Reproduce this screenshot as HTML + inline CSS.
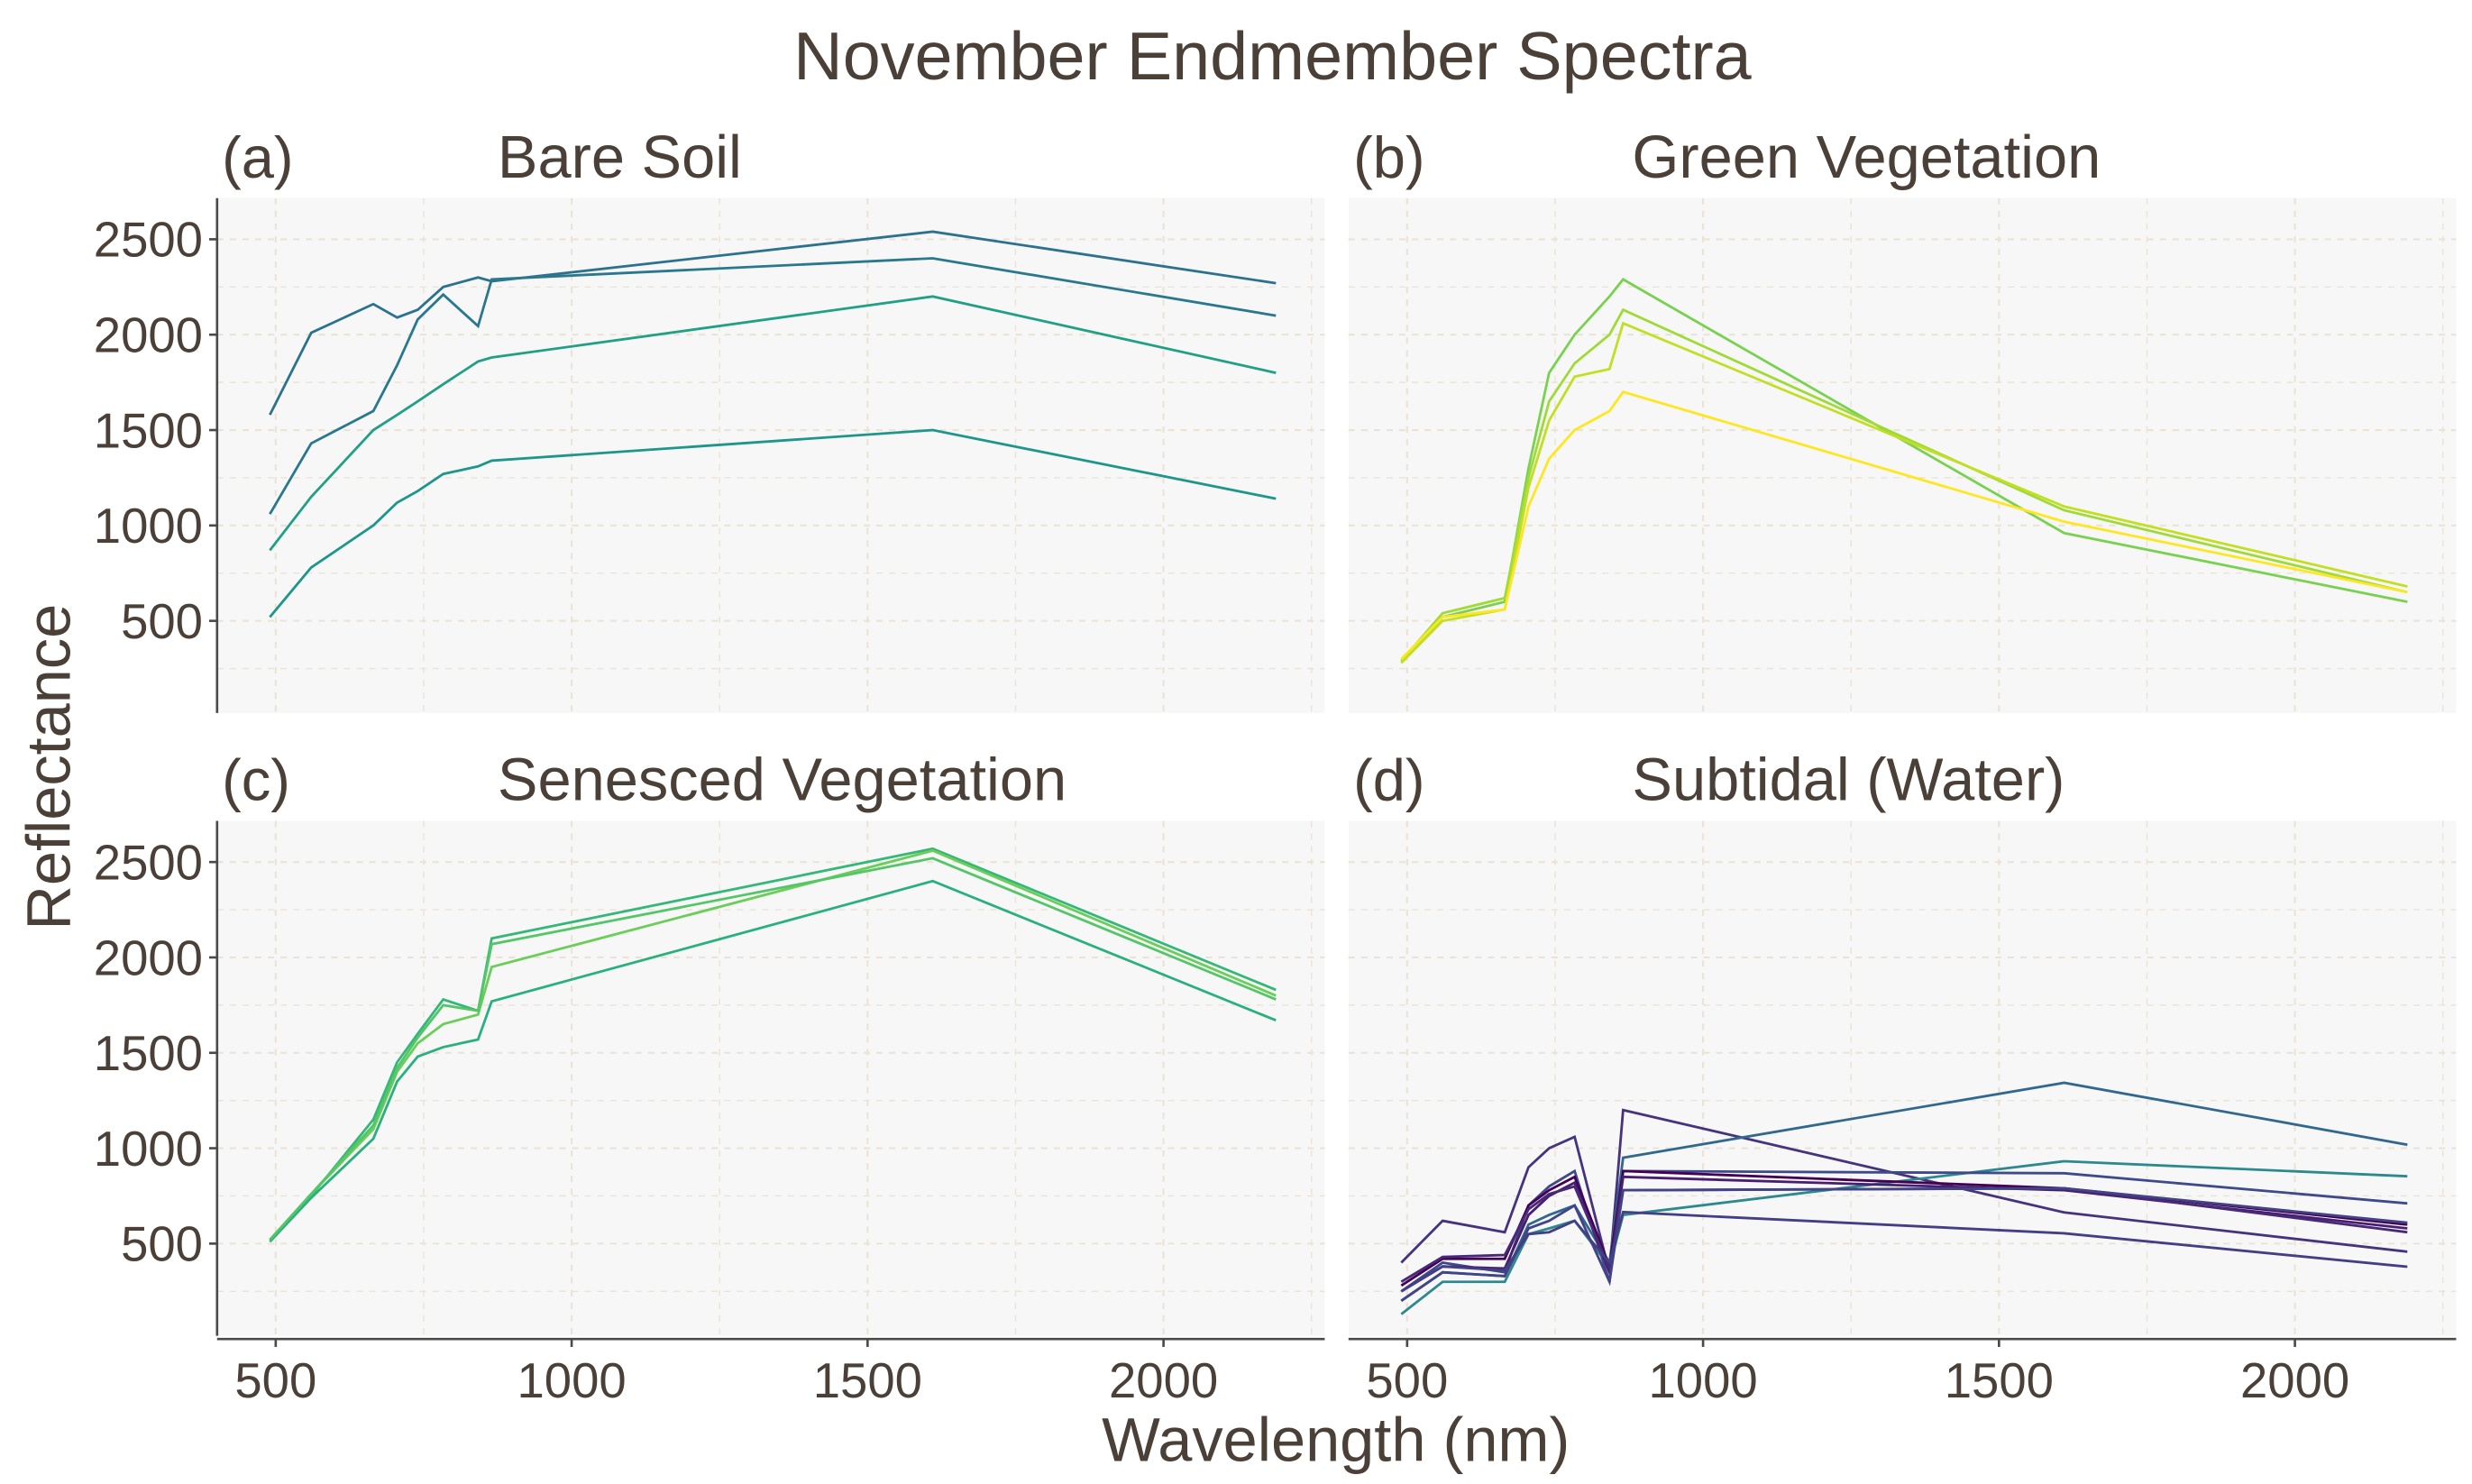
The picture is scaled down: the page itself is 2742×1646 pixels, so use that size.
<!DOCTYPE html>
<html><head><meta charset="utf-8"><style>
html,body{margin:0;padding:0;background:#fff;}
svg{display:block;}
text{font-family:"Liberation Sans",sans-serif;fill:#4a4038;}
</style></head><body>
<svg id="chart" width="2742" height="1646" viewBox="0 0 1560 936.5" preserveAspectRatio="none" xmlns="http://www.w3.org/2000/svg">
<text x="803" y="50" font-size="43" text-anchor="middle">November Endmember Spectra</text>
<text transform="translate(44,484) rotate(-90)" font-size="39" text-anchor="middle">Reflectance</text>
<text x="843" y="922" font-size="39" text-anchor="middle">Wavelength (nm)</text>
<g id="panels"></g>
</svg>
<script>
const wavelengths=[490,560,665,705,740,783,842,865,1610,2190];
const xTicks=[500,1000,1500,2000];
const yTicks=[500,1000,1500,2000,2500];
const panelLabels=["(a)","(b)","(c)","(d)"];
const panelTitles=["Bare Soil","Green Vegetation","Senesced Vegetation","Subtidal (Water)"];
const soil=[[1580,2010,2160,2090,2130,2250,2300,2280,2540,2270],[1060,1430,1600,1840,2080,2210,2045,2290,2400,2100],[870,1150,1500,1580,1650,1740,1860,1880,2200,1800],[520,780,1000,1120,1180,1270,1310,1340,1500,1140]];
const soilColors=["#2c728e","#2a788e","#22a085","#1f968b"];
const green=[[280,520,600,1300,1800,2000,2200,2290,960,600],[290,540,620,1250,1650,1850,2000,2130,1080,650],[280,500,560,1200,1550,1780,1820,2060,1100,680],[300,520,560,1100,1350,1500,1600,1700,1020,650]];
const greenColors=["#7ad151","#a0da39","#c2df23","#fde725"];
const senesced=[[520,750,1150,1450,1600,1780,1720,2100,2570,1830],[520,760,1100,1400,1550,1650,1700,1950,2560,1800],[510,740,1050,1350,1480,1530,1570,1770,2400,1670],[520,760,1120,1420,1580,1750,1720,2070,2520,1780]];
const senescedColors=["#35b779","#6ccd5a","#2ab07f","#54c568"];
const water=[[400,620,560,900,1000,1060,350,1200,664,458],[200,350,330,600,650,700,400,950,1343,1018],[130,300,300,550,580,620,380,650,932,853],[250,400,350,700,800,880,300,880,869,711],[280,420,420,700,780,850,380,880,790,600],[250,380,370,650,750,820,350,850,780,580],[300,430,440,680,760,800,370,780,790,560],[200,350,330,580,620,700,300,780,790,610],[250,380,360,550,560,620,400,665,554,379]];
const waterColors=["#46337e","#31688e","#2c8a8e","#3e4a89","#440154","#481f70","#482878","#414487","#433e85"];

const NS="http://www.w3.org/2000/svg";
const root=document.getElementById("panels");
function mk(tag,attrs,parent){const e=document.createElementNS(NS,tag);for(const k in attrs)e.setAttribute(k,attrs[k]);(parent||root).appendChild(e);return e;}
const panelX=[137,851],panelY=[125,518],PW=699,PH=325;
const datasets=[soil,green,senesced,water];
const colorsets=[soilColors,greenColors,senescedColors,waterColors];
const names=["bare-soil","green-vegetation","senesced-vegetation","subtidal-water"];
for(let p=0;p<4;p++){
  const px=panelX[p%2],py=panelY[Math.floor(p/2)];
  const xs=v=>px+37+(v-500)*0.3735;
  const ys=v=>py+26+(2500-v)*(60.2/500);
  const g=mk("g",{});
  
  
  const bg=mk("rect",{x:px,y:py,width:PW,height:PH,fill:"#f7f7f7"},g);
  
  
  for(let v=250;v<=2750;v+=250){const y=ys(v);if(y<py||y>py+PH)continue;
    const l=mk("line",{x1:px,x2:px+PW,y1:y,y2:y,stroke:"#ebe3d3","stroke-width":v%500===0?1.2:0.8,"stroke-dasharray":"4,4"},g);
    
    }
  for(let v=250;v<=2250;v+=250){const x=xs(v);if(x<px||x>px+PW)continue;
    const l=mk("line",{x1:x,x2:x,y1:py,y2:py+PH,stroke:"#ebe3d3","stroke-width":v%500===0?1.2:0.8,"stroke-dasharray":"4,4"},g);
    
    }
  const lab=mk("text",{x:px+3,y:py-13,"font-size":37},g);lab.textContent=panelLabels[p];
  
  
  const tt=mk("text",{x:px+(p%2?179:177),y:py-13,"font-size":38},g);tt.textContent=panelTitles[p];
  
  
  if(p%2===0){
    const ax=mk("line",{x1:px,x2:px,y1:py,y2:py+PH,stroke:"#4a4a4a","stroke-width":1.5},g);
    
    
    yTicks.forEach(v=>{const y=ys(v);
      const t=mk("line",{x1:px-5,x2:px,y1:y,y2:y,stroke:"#4a4a4a","stroke-width":1.5},g);
      
      
      const tx=mk("text",{x:px-9,y:y+11,"font-size":31,"text-anchor":"end"},g);tx.textContent=v;
      
      });
  }
  if(p>=2){
    const ax=mk("line",{x1:px,x2:px+PW,y1:py+PH+2,y2:py+PH+2,stroke:"#4a4a4a","stroke-width":1.5},g);
    
    
    xTicks.forEach(v=>{const x=xs(v);
      const t=mk("line",{x1:x,x2:x,y1:py+PH+2,y2:py+PH+7,stroke:"#4a4a4a","stroke-width":1.5},g);
      
      
      const tx=mk("text",{x:x,y:py+PH+39,"font-size":31,"text-anchor":"middle"},g);tx.textContent=v;
      
      });
  }
  datasets[p].forEach((s,i)=>{
    const d=s.map((v,k)=>(k?"L":"M")+xs(wavelengths[k]).toFixed(1)+","+ys(v).toFixed(1)).join("");
    const path=mk("path",{d:d,fill:"none",stroke:colorsets[p][i],"stroke-width":1.6},g);
    
    
  });
}
</script>
</body></html>
